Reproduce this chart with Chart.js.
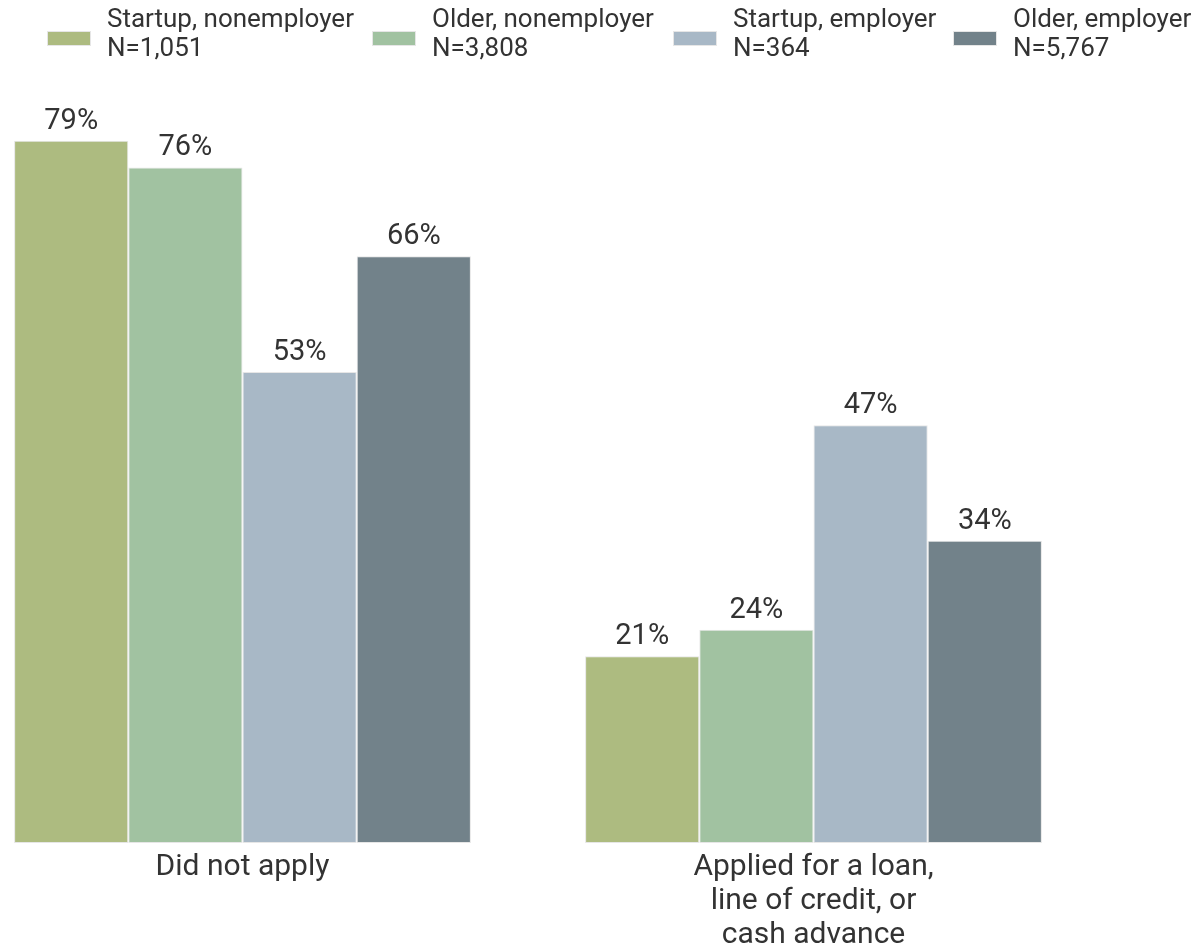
<!DOCTYPE html>
<html>
<head>
<meta charset="utf-8">
<script src="https://cdn.jsdelivr.net/npm/chart.js@4"></script>
<style>
  html, body { margin: 0; padding: 0; background: #ffffff; }
  #wrap { width: 1204px; height: 948px; position: relative; }
</style>
</head>
<body>
<div id="wrap"><canvas id="chart" width="1204" height="948"></canvas></div>
<script>
// Loan application outcomes by firm age and employer status
const categories = [
  ['Did not apply'],
  ['Applied for a loan,', 'line of credit, or', 'cash advance']
];
const seriesNames = ['Startup, nonemployer', 'Older, nonemployer', 'Startup, employer', 'Older, employer'];
const sampleSizes = ['N=1,051', 'N=3,808', 'N=364', 'N=5,767'];
const startupNonemployer = [79, 21];
const olderNonemployer = [76, 24];
const startupEmployer = [53, 47];
const olderEmployer = [66, 34];

const seriesValues = [startupNonemployer, olderNonemployer, startupEmployer, olderEmployer];
const seriesColors = ['#adbb80', '#a1c2a1', '#a8b8c6', '#72828a'];

const FONT = 'Roboto, "Noto Sans", sans-serif';
const TEXT = '#333333';

// Percent labels above each bar
const valueLabels = {
  id: 'valueLabels',
  afterDatasetsDraw(chart) {
    const ctx = chart.ctx;
    ctx.save();
    ctx.font = '29px ' + FONT;
    ctx.fillStyle = TEXT;
    ctx.textAlign = 'center';
    ctx.textBaseline = 'alphabetic';
    chart.data.datasets.forEach((ds, di) => {
      const meta = chart.getDatasetMeta(di);
      meta.data.forEach((bar, i) => {
        ctx.fillText(ds.data[i] + '%', bar.x, bar.y - 12);
      });
    });
    ctx.restore();
  }
};

// Two-line legend across the top
const legendX = [47, 372, 673, 953];
const topLegend = {
  id: 'topLegend',
  afterDraw(chart) {
    const ctx = chart.ctx;
    ctx.save();
    ctx.font = '26px ' + FONT;
    ctx.textBaseline = 'alphabetic';
    ctx.textAlign = 'left';
    seriesNames.forEach((name, i) => {
      const x = legendX[i];
      ctx.fillStyle = seriesColors[i];
      ctx.fillRect(x, 31, 44, 15);
      ctx.strokeStyle = '#e6e6e6';
      ctx.lineWidth = 1;
      ctx.strokeRect(x + 0.5, 31.5, 43, 14);
      ctx.fillStyle = TEXT;
      ctx.fillText(name, x + 60, 27);
      ctx.fillText(sampleSizes[i], x + 60, 56);
    });
    ctx.restore();
  }
};

new Chart(document.getElementById('chart'), {
  type: 'bar',
  data: {
    labels: categories,
    datasets: seriesNames.map((name, s) => ({
      label: name,
      data: seriesValues[s],
      backgroundColor: seriesColors[s],
      borderColor: '#e6e6e6',
      borderWidth: 1,
      borderSkipped: false,
      categoryPercentage: 0.8,
      barPercentage: 1.0,
      clip: false
    }))
  },
  options: {
    responsive: false,
    animation: false,
    layout: { padding: { top: 43, left: 242.5, right: 390.5, bottom: 0 } },
    plugins: {
      legend: { display: false },
      tooltip: { enabled: false }
    },
    scales: {
      x: {
        type: 'category',
        offset: false,
        grid: { display: false, drawTicks: false },
        border: { display: false },
        afterFit(scale) { scale.height = 105; },
        ticks: {
          autoSkip: false,
          maxRotation: 0,
          padding: 8,
          color: TEXT,
          font: { family: FONT, size: 30, lineHeight: 1.13 }
        }
      },
      y: {
        display: false,
        min: 0,
        max: 90
      }
    }
  },
  plugins: [valueLabels, topLegend]
});
</script>
</body>
</html>
